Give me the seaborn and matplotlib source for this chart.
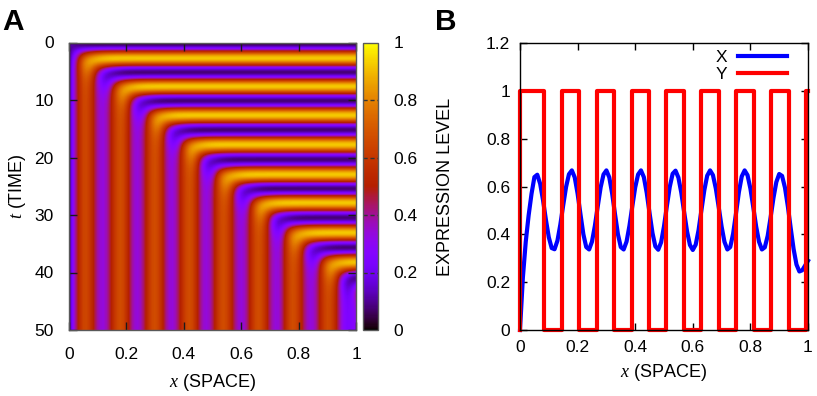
import numpy as np
import pandas as pd
import matplotlib
matplotlib.use("Agg")
import matplotlib.pyplot as plt
import seaborn as sns

# ---------------- data ----------------
# Panel B: final spatial profile of X (sampled every 0.01 in x)
x_pos = np.linspace(0.0, 1.0, 101)
x_expr = [0.00, 0.22, 0.37, 0.48, 0.57, 0.64,
          0.650, 0.612, 0.543, 0.461, 0.388, 0.343,
          0.338, 0.374, 0.441, 0.522, 0.599, 0.652,
          0.668, 0.639, 0.571, 0.484, 0.401, 0.347,
          0.337, 0.370, 0.436, 0.518, 0.597, 0.651,
          0.668, 0.639, 0.571, 0.484, 0.401, 0.347,
          0.337, 0.370, 0.436, 0.518, 0.597, 0.651,
          0.668, 0.640, 0.574, 0.488, 0.406, 0.350,
          0.336, 0.367, 0.434, 0.519, 0.599, 0.654,
          0.667, 0.638, 0.575, 0.493, 0.413, 0.356,
          0.335, 0.357, 0.418, 0.502, 0.585, 0.646,
          0.668, 0.648, 0.592, 0.514, 0.433, 0.369,
          0.337, 0.347, 0.403, 0.488, 0.577, 0.643,
          0.668, 0.648, 0.592, 0.514, 0.433, 0.369,
          0.337, 0.346, 0.394, 0.470, 0.552, 0.619,
          0.653, 0.645, 0.596, 0.518, 0.426, 0.339,
          0.274, 0.245, 0.250, 0.270, 0.290]

# Panel B: Y square wave (switch positions and level after each switch)
y_switch_x = [0.0, 0.0, 0.084, 0.145, 0.206, 0.266, 0.327, 0.389, 0.449, 0.507,
              0.569, 0.628, 0.691, 0.750, 0.812, 0.872, 0.935, 0.992, 1.0]
y_level = [0, 1, 0, 1, 0, 1, 0, 1, 0, 1, 0, 1, 0, 1, 0, 1, 0, 1, 1]

# Panel A: positions of frozen stripes (X peaks) and times of clock peaks (yellow bands)
stripe_x = np.array([0.056, 0.179, 0.299, 0.419, 0.538, 0.660, 0.780, 0.903])
band_t = np.array([2.8, 7.7, 12.7, 17.8, 23.0, 27.9, 33.1, 38.2])
clock_low, clock_high = 0.08, 0.92

x_ticks = [0, 0.2, 0.4, 0.6, 0.8, 1]
x_ticklabels = ["0", "0.2", "0.4", "0.6", "0.8", "1"]
t_ticks = [0, 10, 20, 30, 40, 50]
y_ticks_b = [0, 0.2, 0.4, 0.6, 0.8, 1, 1.2]
y_ticklabels_b = ["0", "0.2", "0.4", "0.6", "0.8", "1", "1.2"]
cbar_ticks = [0, 0.2, 0.4, 0.6, 0.8, 1]

# ---------------- build the space-time field for panel A ----------------
nx, nt = 287, 288
t_max = 50.0
xs = (np.arange(nx) + 0.5) / nx
ts = (np.arange(nt) + 0.5) / nt * t_max
T, XG = np.meshgrid(ts, xs, indexing="ij")

period_t = np.mean(np.diff(band_t))
period_x = np.mean(np.diff(stripe_x))
kidx = np.arange(len(band_t))


def phase_of_t(t):
    k = np.interp(t, band_t, kidx)
    k = np.where(t < band_t[0], (t - band_t[0]) / period_t, k)
    k = np.where(t > band_t[-1], kidx[-1] + (t - band_t[-1]) / period_t, k)
    return 2 * np.pi * k


def freeze_t(x):
    tf = np.interp(x, stripe_x, band_t)
    tf = np.where(x < stripe_x[0], band_t[0] + (x - stripe_x[0]) * period_t / period_x, tf)
    tf = np.where(x > stripe_x[-1], band_t[-1] + (x - stripe_x[-1]) * period_t / period_x, tf)
    return tf


tau = 1.15
tf = freeze_t(XG)
s = tf - tau * np.logaddexp(0.0, (tf - T) / tau)
mid = 0.5 * (clock_low + clock_high)
amp = 0.5 * (clock_high - clock_low)
osc = mid + amp * np.cos(phase_of_t(s))
w = 1.0 / (1.0 + np.exp(-(T - tf - 1.5) / 1.2))
xfin = np.interp(XG, x_pos, x_expr)
field = (1 - w) * osc + w * xfin
field = field * (1 - np.exp(-T / 0.35))
field_df = pd.DataFrame(field)

# ---------------- figure ----------------
plt.rcParams["font.family"] = ["Liberation Sans", "DejaVu Sans"]
plt.rcParams["mathtext.fontset"] = "custom"
plt.rcParams["mathtext.it"] = "Liberation Serif:italic"
plt.rcParams["mathtext.rm"] = "Liberation Sans"

W, H = 817, 396
fig = plt.figure(figsize=(W / 100, H / 100), dpi=100)
axA = fig.add_axes([69 / W, 66 / H, 287 / W, 287.5 / H])
cax = fig.add_axes([363 / W, 66 / H, 15 / W, 287.5 / H])
axB = fig.add_axes([520 / W, 66 / H, 288 / W, 286.7 / H])

tick_fs = 12.5
label_fs = 13

# Panel A heatmap
sns.heatmap(field_df, cmap="gnuplot", vmin=0, vmax=1, ax=axA, cbar_ax=cax,
            xticklabels=False, yticklabels=False)
axA.set_xticks(np.array(x_ticks) * nx)
axA.set_xticklabels(x_ticklabels)
axA.set_yticks(np.array(t_ticks) / t_max * nt)
axA.set_yticklabels([str(v) for v in t_ticks], rotation=0)
axA.tick_params(axis="x", direction="in", length=6, width=1, color="0.1",
                top=True, bottom=True, labelsize=tick_fs, pad=12)
axA.tick_params(axis="y", direction="in", length=6, width=1, color="0.1",
                left=True, right=True, labelsize=tick_fs, pad=11)
for sp in axA.spines.values():
    sp.set_visible(True)
    sp.set_linewidth(1)
    sp.set_color("0.35")
axA.set_xlabel("$x$ (SPACE)", fontsize=label_fs, va="center")
axA.xaxis.set_label_coords(0.5, -0.183)
axA.set_ylabel("$t$ (TIME)", fontsize=label_fs, va="center")
axA.yaxis.set_label_coords(-0.179, 0.5)

cbar = axA.collections[0].colorbar
cbar.set_ticks(cbar_ticks)
cbar.set_ticklabels(["0", "0.2", "0.4", "0.6", "0.8", "1"])
cax.tick_params(length=0, labelsize=tick_fs, pad=11)
cbar.outline.set_edgecolor("0.35")
cbar.outline.set_linewidth(1)
for v in cbar_ticks[1:-1]:
    cax.axhline(v, color="0.2", lw=1, ls=(0, (3, 2)))

# Panel B lines
dfX = pd.DataFrame({"x": x_pos, "v": x_expr})
dfY = pd.DataFrame({"x": y_switch_x, "v": y_level})
sns.lineplot(data=dfX, x="x", y="v", ax=axB, color="#0000ff", lw=3,
             label="X", estimator=None, sort=False, clip_on=False)
sns.lineplot(data=dfY, x="x", y="v", ax=axB, color="#ff0000", lw=3,
             label="Y", estimator=None, sort=False, drawstyle="steps-post",
             clip_on=False)
axB.set_xlim(0, 1)
axB.set_ylim(0, 1.2)
axB.set_xticks(x_ticks)
axB.set_xticklabels(x_ticklabels)
axB.set_yticks(y_ticks_b)
axB.set_yticklabels(y_ticklabels_b)
axB.tick_params(direction="in", length=5, width=1, color="black",
                top=True, right=True, labelsize=tick_fs)
axB.tick_params(axis="x", pad=7)
axB.tick_params(axis="y", pad=7)
for sp in axB.spines.values():
    sp.set_linewidth(1)
    sp.set_color("black")
axB.set_xlabel("$x$ (SPACE)", fontsize=label_fs, va="center")
axB.xaxis.set_label_coords(0.5, -0.148)
axB.set_ylabel("EXPRESSION LEVEL", fontsize=label_fs, va="center")
axB.yaxis.set_label_coords(-0.257, 0.5)
axB.legend(loc="upper right", bbox_to_anchor=(0.926, 0.977), frameon=False,
           markerfirst=False, handlelength=2.8, handletextpad=0.65,
           labelspacing=0.1, borderaxespad=0, borderpad=0, fontsize=tick_fs)

fig.text(2 / W, 1 - 30 / H, "A", fontsize=21.5, fontweight="bold", va="baseline")
fig.text(435 / W, 1 - 30 / H, "B", fontsize=21.5, fontweight="bold", va="baseline")

fig.savefig("out.png", dpi=100)
